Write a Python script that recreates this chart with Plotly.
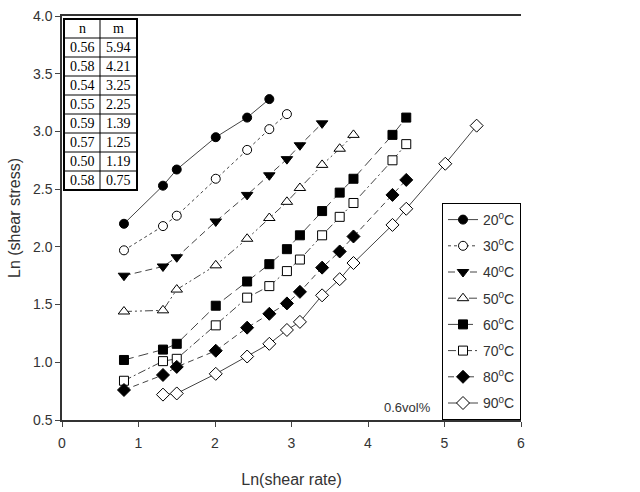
import plotly.graph_objects as go

# ---- data ----
x_20 = [0.81, 1.32, 1.50, 2.01, 2.42, 2.71]
y_20 = [2.20, 2.53, 2.67, 2.95, 3.12, 3.28]

x_30 = [0.81, 1.32, 1.50, 2.01, 2.42, 2.71, 2.94]
y_30 = [1.97, 2.18, 2.27, 2.59, 2.84, 3.02, 3.15]

x_40 = [0.81, 1.32, 1.50, 2.01, 2.42, 2.71, 2.94, 3.11, 3.40]
y_40 = [1.75, 1.83, 1.91, 2.22, 2.45, 2.62, 2.76, 2.88, 3.07]

x_50 = [0.81, 1.32, 1.50, 2.01, 2.42, 2.71, 2.94, 3.11, 3.40, 3.63, 3.81]
y_50 = [1.44, 1.45, 1.63, 1.84, 2.07, 2.25, 2.39, 2.51, 2.71, 2.85, 2.97]

x_60 = [0.81, 1.32, 1.50, 2.01, 2.42, 2.71, 2.94, 3.11, 3.40, 3.63, 3.81, 4.32, 4.50]
y_60 = [1.02, 1.11, 1.16, 1.49, 1.70, 1.85, 1.98, 2.10, 2.31, 2.47, 2.59, 2.97, 3.12]

x_70 = [0.81, 1.32, 1.50, 2.01, 2.42, 2.71, 2.94, 3.11, 3.40, 3.63, 3.81, 4.32, 4.50]
y_70 = [0.84, 1.01, 1.03, 1.32, 1.56, 1.66, 1.79, 1.89, 2.10, 2.26, 2.38, 2.75, 2.89]

x_80 = [0.81, 1.32, 1.50, 2.01, 2.42, 2.71, 2.94, 3.11, 3.40, 3.63, 3.81, 4.32, 4.50]
y_80 = [0.76, 0.89, 0.96, 1.10, 1.30, 1.42, 1.51, 1.61, 1.82, 1.96, 2.09, 2.45, 2.58]

x_90 = [1.32, 1.50, 2.01, 2.42, 2.71, 2.94, 3.11, 3.40, 3.63, 3.81, 4.32, 4.50, 5.01, 5.42]
y_90 = [0.72, 0.73, 0.90, 1.05, 1.16, 1.28, 1.35, 1.58, 1.72, 1.86, 2.19, 2.33, 2.72, 3.05]

temps = ["20", "30", "40", "50", "60", "70", "80", "90"]

table_header = ["n", "m"]
n_vals = [0.56, 0.58, 0.54, 0.55, 0.59, 0.57, 0.50, 0.58]
m_vals = [5.94, 4.21, 3.25, 2.25, 1.39, 1.25, 1.19, 0.75]

annotation_text = "0.6vol%"

# ---- styles ----
xs = [x_20, x_30, x_40, x_50, x_60, x_70, x_80, x_90]
ys = [y_20, y_30, y_40, y_50, y_60, y_70, y_80, y_90]
symbols = ["circle", "circle", "triangle-down", "triangle-up", "square", "square", "diamond", "diamond"]
fills = ["black", "white", "black", "white", "black", "white", "black", "white"]
dashes = ["solid", "dot", "7px,4px", "8px,3px,2px,3px,2px,3px", "10px,5px",
          "8px,3px,2px,3px", "6px,4px", "solid"]
sizes = [9, 9, 10, 10, 9, 9, 10, 10]

fig = go.Figure()
for i in range(8):
    name = temps[i] + "<sup>0</sup>C"
    fig.add_trace(go.Scatter(
        x=xs[i], y=ys[i], mode="lines+markers", name=name, legendgroup=temps[i],
        line=dict(color="#444444", width=1, dash=dashes[i]),
        marker=dict(symbol=symbols[i], size=sizes[i], color=fills[i],
                    line=dict(color="black", width=1)),
    ))

# ---- inset table (drawn as shapes + text) ----
L, R, T, B = 62, 521, 16, 420
def xp(px):
    return (px - L) / (R - L)
def yp(py):
    return (B - py) / (B - T)

tx0, tx1, tx2 = 64, 100, 137
ty0, rowh = 19, 19
nrows = len(n_vals) + 1
shapes = []
shapes.append(dict(type="rect", xref="paper", yref="paper",
                   x0=xp(tx0), x1=xp(tx2), y0=yp(ty0 + nrows * rowh), y1=yp(ty0),
                   line=dict(color="black", width=2), fillcolor="white", layer="above"))
shapes.append(dict(type="line", xref="paper", yref="paper",
                   x0=xp(tx1), x1=xp(tx1), y0=yp(ty0 + nrows * rowh), y1=yp(ty0),
                   line=dict(color="black", width=1), layer="above"))
for r in range(1, nrows):
    shapes.append(dict(type="line", xref="paper", yref="paper",
                       x0=xp(tx0), x1=xp(tx2), y0=yp(ty0 + r * rowh), y1=yp(ty0 + r * rowh),
                       line=dict(color="black", width=1), layer="above"))

annotations = []
rows = [table_header] + [["%.2f" % a, "%.2f" % b] for a, b in zip(n_vals, m_vals)]
for r, row in enumerate(rows):
    yc = yp(ty0 + r * rowh + rowh / 2)
    for c, txt in enumerate(row):
        xc = xp((tx0 + tx1) / 2) if c == 0 else xp((tx1 + tx2) / 2)
        annotations.append(dict(x=xc, y=yc, xref="paper", yref="paper", text=txt,
                                showarrow=False, xanchor="center", yanchor="middle",
                                font=dict(family="Liberation Serif", size=14, color="black")))

annotations.append(dict(x=4.52, y=0.61, xref="x", yref="y", text=annotation_text,
                        showarrow=False, xanchor="center", yanchor="middle",
                        font=dict(family="Liberation Sans", size=13, color="#333333")))

fig.update_layout(
    width=640, height=492,
    margin=dict(l=L, r=640 - R, t=T, b=492 - B, autoexpand=False),
    paper_bgcolor="white", plot_bgcolor="white",
    font=dict(family="Liberation Sans", size=14, color="#333333"),
    showlegend=True,
    legend=dict(x=1, xanchor="right", y=0, yanchor="bottom",
                bgcolor="white", bordercolor="black", borderwidth=1,
                font=dict(family="Liberation Sans", size=14, color="#333333"),
                tracegroupgap=5, itemwidth=30),
    shapes=shapes,
    annotations=annotations,
)
fig.update_xaxes(range=[0, 6], dtick=1, tick0=0, ticks="outside", ticklen=5,
                 ticklabelstandoff=4, automargin=False,
                 showline=True, linecolor="#333333", linewidth=1.5, mirror=True,
                 showgrid=False, zeroline=False,
                 title=dict(text="Ln(shear rate)", font=dict(size=16), standoff=24))
fig.update_yaxes(range=[0.5, 4.0], dtick=0.5, tick0=0.5, tickformat=".1f",
                 ticks="outside", ticklen=5, automargin=False,
                 showline=True, linecolor="#333333", linewidth=1.5,
                 showgrid=False, zeroline=False,
                 title=dict(text="Ln (shear stress)", font=dict(size=16), standoff=8))

fig.write_html("out.html")
